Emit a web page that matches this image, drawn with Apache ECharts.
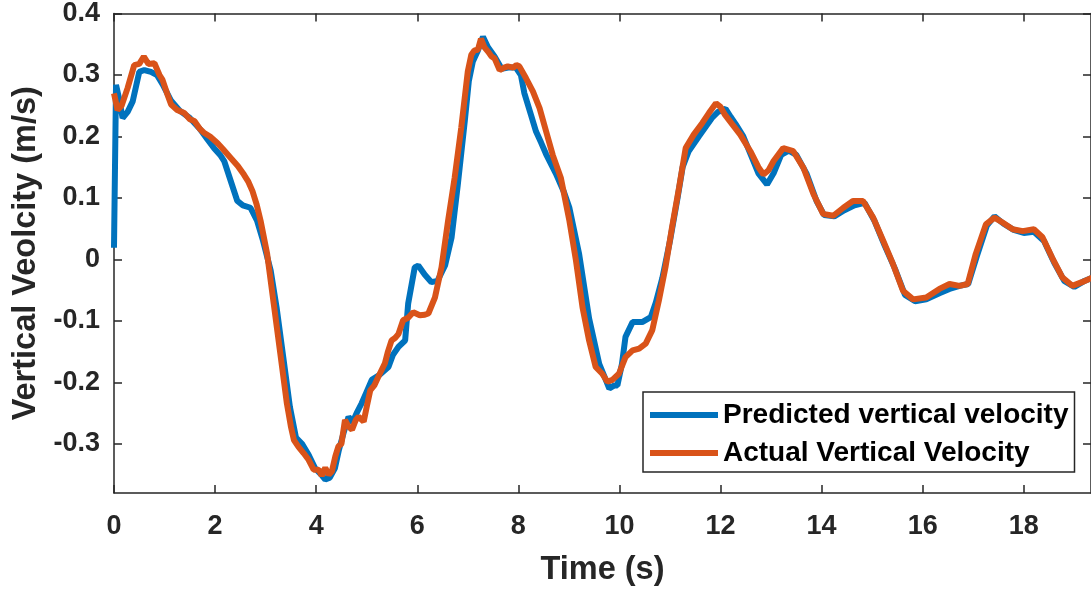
<!DOCTYPE html>
<html>
<head>
<meta charset="utf-8">
<script src="https://cdn.jsdelivr.net/npm/echarts@6/dist/echarts.min.js"></script>
<style>html,body{margin:0;padding:0;background:#fff;}#c{width:1091px;height:592px;}</style>
</head>
<body>
<div id="c"></div>
<script>
// Predicted vertical velocity (blue)
const predTime = [0,0.04,0.10,0.17,0.27,0.37,0.50,0.60,0.73,0.85,0.96,1.13,1.30,1.50,1.70,1.85,1.98,2.10,2.18,2.30,2.44,2.55,2.70,2.83,2.95,3.10,3.22,3.35,3.48,3.60,3.72,3.85,3.98,4.10,4.18,4.27,4.37,4.45,4.55,4.64,4.72,4.80,4.90,5.00,5.10,5.25,5.43,5.52,5.63,5.76,5.82,5.95,6.02,6.15,6.28,6.40,6.55,6.68,6.80,6.94,7.02,7.10,7.20,7.30,7.40,7.53,7.67,7.80,7.95,8.05,8.12,8.25,8.35,8.45,8.55,8.74,8.90,9.01,9.20,9.40,9.60,9.70,9.80,9.90,9.96,10.05,10.12,10.26,10.45,10.62,10.72,10.85,11.00,11.15,11.25,11.37,11.57,11.70,11.83,11.95,12.10,12.20,12.30,12.45,12.60,12.75,12.92,13.05,13.20,13.35,13.50,13.70,13.90,14.05,14.25,14.45,14.65,14.85,15.05,15.25,15.45,15.65,15.85,16.07,16.33,16.53,16.73,16.90,17.07,17.27,17.42,17.60,17.80,18.00,18.20,18.40,18.60,18.80,19.00,19.20,19.35];
const predValues = [0.019,0.284,0.262,0.230,0.240,0.257,0.305,0.308,0.305,0.300,0.285,0.258,0.242,0.230,0.212,0.195,0.181,0.170,0.160,0.130,0.095,0.088,0.084,0.063,0.030,-0.018,-0.080,-0.160,-0.240,-0.290,-0.300,-0.318,-0.340,-0.350,-0.358,-0.355,-0.340,-0.310,-0.280,-0.256,-0.265,-0.250,-0.234,-0.215,-0.196,-0.188,-0.175,-0.155,-0.142,-0.132,-0.072,-0.013,-0.010,-0.025,-0.037,-0.035,-0.010,0.036,0.120,0.225,0.290,0.322,0.340,0.362,0.345,0.330,0.310,0.312,0.312,0.300,0.270,0.235,0.208,0.190,0.171,0.140,0.110,0.084,0.010,-0.096,-0.170,-0.190,-0.210,-0.205,-0.205,-0.170,-0.126,-0.102,-0.102,-0.094,-0.070,-0.030,0.030,0.100,0.150,0.176,0.200,0.215,0.230,0.240,0.245,0.232,0.220,0.200,0.170,0.140,0.122,0.140,0.170,0.177,0.170,0.140,0.095,0.072,0.070,0.080,0.088,0.092,0.062,0.022,-0.015,-0.058,-0.068,-0.065,-0.055,-0.048,-0.043,-0.040,0.005,0.055,0.070,0.058,0.048,0.043,0.045,0.030,-0.005,-0.035,-0.045,-0.035,-0.030];

// Actual vertical velocity (orange)
const actualTime = [0,0.07,0.15,0.27,0.40,0.50,0.59,0.68,0.80,0.90,0.96,1.05,1.13,1.25,1.39,1.50,1.59,1.70,1.78,1.90,2.05,2.15,2.31,2.45,2.57,2.66,2.74,2.82,2.90,3.03,3.16,3.29,3.42,3.50,3.56,3.65,3.75,3.85,3.95,4.05,4.11,4.18,4.25,4.31,4.38,4.44,4.50,4.57,4.64,4.71,4.78,4.84,4.94,5.00,5.07,5.15,5.23,5.36,5.42,5.49,5.56,5.63,5.72,5.82,5.92,6.05,6.15,6.22,6.35,6.48,6.61,6.74,6.87,7.00,7.07,7.13,7.20,7.26,7.33,7.40,7.47,7.53,7.63,7.72,7.79,7.90,7.96,8.02,8.15,8.29,8.42,8.55,8.68,8.84,9.01,9.14,9.27,9.40,9.53,9.66,9.76,9.86,9.99,10.12,10.26,10.39,10.52,10.65,10.78,10.91,11.04,11.18,11.31,11.47,11.64,11.77,11.91,12.00,12.09,12.23,12.39,12.59,12.75,12.85,12.95,13.05,13.24,13.44,13.64,13.84,14.03,14.23,14.43,14.62,14.82,15.02,15.22,15.41,15.61,15.81,16.07,16.33,16.53,16.73,16.89,17.05,17.25,17.42,17.58,17.78,17.98,18.20,18.37,18.56,18.76,18.96,19.15,19.35];
const actualValues = [0.270,0.243,0.250,0.279,0.316,0.318,0.330,0.318,0.319,0.300,0.292,0.270,0.252,0.243,0.238,0.228,0.225,0.212,0.206,0.200,0.189,0.180,0.165,0.152,0.138,0.126,0.111,0.090,0.063,0.009,-0.072,-0.153,-0.234,-0.272,-0.294,-0.305,-0.315,-0.326,-0.342,-0.342,-0.352,-0.339,-0.350,-0.345,-0.320,-0.304,-0.300,-0.261,-0.272,-0.277,-0.262,-0.256,-0.264,-0.240,-0.213,-0.205,-0.191,-0.169,-0.150,-0.132,-0.128,-0.121,-0.099,-0.095,-0.086,-0.091,-0.090,-0.088,-0.062,-0.013,0.063,0.133,0.214,0.306,0.333,0.340,0.341,0.359,0.345,0.338,0.330,0.327,0.308,0.312,0.314,0.312,0.316,0.314,0.295,0.273,0.246,0.208,0.170,0.133,0.063,-0.002,-0.078,-0.132,-0.175,-0.186,-0.199,-0.196,-0.186,-0.159,-0.148,-0.145,-0.137,-0.115,-0.067,-0.013,0.052,0.117,0.181,0.203,0.222,0.238,0.254,0.248,0.235,0.220,0.203,0.176,0.150,0.138,0.145,0.160,0.181,0.176,0.149,0.106,0.074,0.071,0.084,0.095,0.095,0.068,0.030,-0.007,-0.051,-0.065,-0.062,-0.048,-0.040,-0.043,-0.040,0.009,0.057,0.068,0.060,0.049,0.046,0.049,0.036,0.003,-0.029,-0.043,-0.037,-0.030];

const xTicks = [0,2,4,6,8,10,12,14,16,18];
const yTicks = [-0.3,-0.2,-0.1,0,0.1,0.2,0.3,0.4];
const seriesNames = ['Predicted vertical velocity','Actual Vertical Velocity'];
const xName = 'Time (s)';
const yName = 'Vertical Veolcity (m/s)';

const zip = (a, b) => a.map((t, i) => [t, b[i]]);
const axisColor = '#262626';
const FONT = '"Liberation Sans", Arial, Helvetica, sans-serif';

const chart = echarts.init(document.getElementById('c'), null, {renderer: 'canvas'});
const xMax = 19.33, yMin = -0.38, yMax = 0.4;

const baseX = {
  type: 'value', min: 0, max: xMax,
  axisLine: {show: true, onZero: false, lineStyle: {color: axisColor, width: 1.5}},
  axisTick: {show: true, inside: true, length: 8, customValues: xTicks, lineStyle: {color: axisColor, width: 1.5}},
  splitLine: {show: false}
};
const baseY = {
  type: 'value', min: yMin, max: yMax,
  axisLine: {show: true, onZero: false, lineStyle: {color: axisColor, width: 1.5}},
  axisTick: {show: true, inside: true, length: 8, customValues: yTicks, lineStyle: {color: axisColor, width: 1.5}},
  splitLine: {show: false}
};

chart.setOption({
  animation: false,
  backgroundColor: '#ffffff',
  grid: {left: 114, top: 12, width: 981, height: 482, containLabel: false},
  xAxis: [
    Object.assign({}, baseX, {
      position: 'bottom',
      name: xName, nameLocation: 'middle', nameGap: 61,
      nameTextStyle: {fontFamily: FONT, fontWeight: 'bold', fontSize: 32.5, color: axisColor},
      axisLabel: {show: true, customValues: xTicks, margin: 20, fontFamily: FONT, fontWeight: 'bold', fontSize: 27, color: axisColor,
        formatter: v => String(v)}
    }),
    Object.assign({}, baseX, {position: 'top', axisLabel: {show: false}})
  ],
  yAxis: [
    Object.assign({}, baseY, {
      position: 'left',
      name: yName, nameLocation: 'middle', nameGap: 69, nameRotate: 90,
      nameTextStyle: {fontFamily: FONT, fontWeight: 'bold', fontSize: 32.5, color: axisColor},
      axisLabel: {show: true, customValues: yTicks, margin: 14, fontFamily: FONT, fontWeight: 'bold', fontSize: 27, color: axisColor,
        formatter: v => String(Math.round(v * 10) / 10)}
    }),
    Object.assign({}, baseY, {position: 'right', axisLabel: {show: false}})
  ],
  legend: {
    show: true, orient: 'vertical', left: 643, top: 392,
    padding: [8, 6, 4, 7], itemGap: 8,
    itemWidth: 68, itemHeight: 6, icon: 'rect',
    backgroundColor: '#ffffff', borderColor: axisColor, borderWidth: 1.5, borderRadius: 0,
    textStyle: {fontFamily: FONT, fontWeight: 'bold', fontSize: 28, color: '#000000', lineHeight: 30},
    data: seriesNames
  },
  series: [
    {name: seriesNames[0], type: 'line', data: zip(predTime, predValues), showSymbol: false, symbol: 'none',
      lineStyle: {color: '#0072BD', width: 6}, itemStyle: {color: '#0072BD'}, z: 2, clip: true},
    {name: seriesNames[1], type: 'line', data: zip(actualTime, actualValues), showSymbol: false, symbol: 'none',
      lineStyle: {color: '#D95319', width: 6}, itemStyle: {color: '#D95319'}, z: 3, clip: true}
  ]
});
</script>
</body>
</html>
